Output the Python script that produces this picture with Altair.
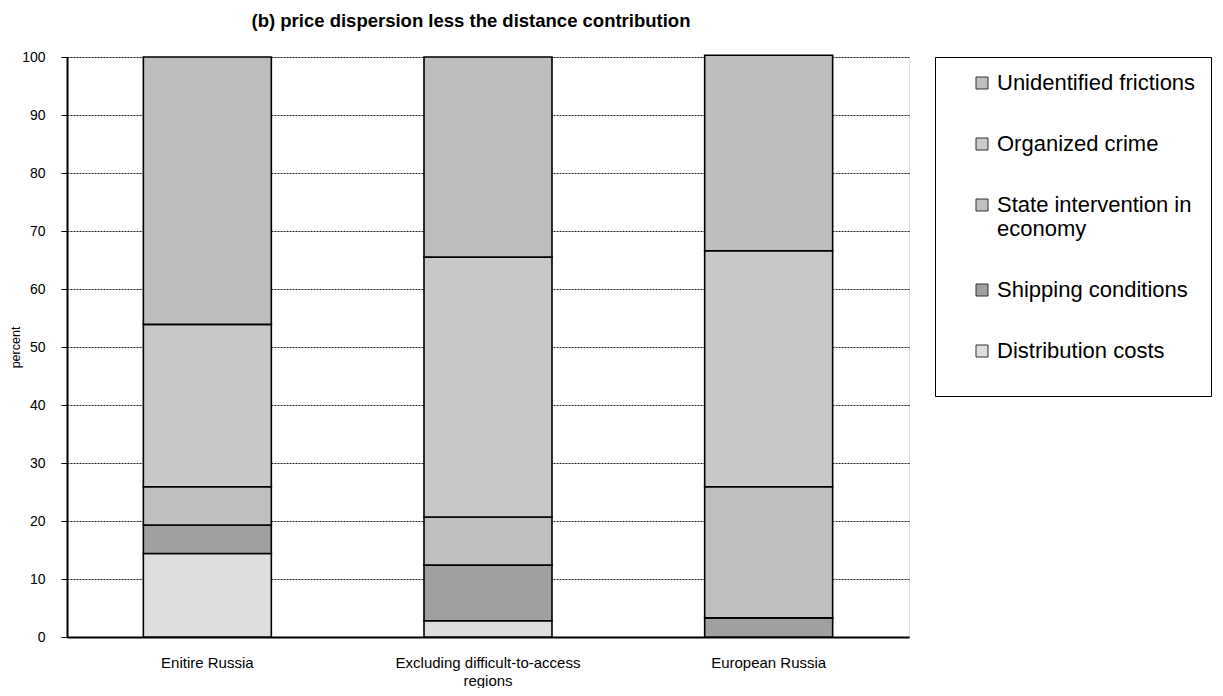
import altair as alt
import pandas as pd

categories = ["Enitire Russia", "Excluding difficult-to-access regions", "European Russia"]
components = ["Distribution costs", "Shipping conditions", "State intervention in economy",
              "Organized crime", "Unidentified frictions"]
distribution = [14.4, 2.8, 0.0]
shipping = [4.9, 9.6, 3.3]
state = [6.6, 8.3, 22.6]
crime = [28.0, 44.8, 40.7]
unidentified = [46.1, 34.5, 33.7]
colors = ["#DEDEDE", "#A0A0A0", "#C0C0C0", "#C8C8C8", "#BEBEBE"]

series = [distribution, shipping, state, crime, unidentified]
rows = []
for k, (comp, vals) in enumerate(zip(components, series)):
    for cat, v in zip(categories, vals):
        rows.append({"category": cat, "component": comp, "value": v, "rank": k})
df = pd.DataFrame(rows)

legend_order = components[::-1]
legend_colors = colors[::-1]

FONT = "Liberation Sans"

chart = alt.Chart(df).mark_bar(stroke="black", strokeWidth=1.6).encode(
    x=alt.X("category:N", sort=categories,
            scale=alt.Scale(paddingInner=0.544, paddingOuter=0.272),
            axis=alt.Axis(title=None, labelAngle=0, ticks=False, labelPadding=18,
                          labelFontSize=15, labelColor="black", labelFont=FONT,
                          labelLineHeight=18, labelLimit=400,
                          domainColor="black", domainWidth=2,
                          labelExpr="datum.label == 'Excluding difficult-to-access regions' ? ['Excluding difficult-to-access', 'regions'] : datum.label")),
    y=alt.Y("value:Q", stack="zero",
            scale=alt.Scale(domain=[0, 100], nice=False),
            axis=alt.Axis(title="percent", values=list(range(0, 101, 10)),
                          titleFontSize=12.5, titleFontWeight="normal", titleFont=FONT,
                          titleColor="black", titleX=-52, titleY=290, titleAngle=270,
                          titleAlign="center", titleBaseline="middle",
                          labelFontSize=14, labelColor="black", labelFont=FONT,
                          labelPadding=16, tickSize=6, tickColor="black",
                          domainColor="black", domainWidth=2,
                          grid=True, gridColor="#222222", gridWidth=1, gridDash=[2, 1])),
    color=alt.Color("component:N",
                    scale=alt.Scale(domain=legend_order, range=legend_colors),
                    legend=alt.Legend(title=" ", titleOrient="bottom", titleFontSize=14,
                                      titlePadding=5,
                                      orient="none", legendX=868, legendY=0,
                                      padding=15, strokeColor="black", fillColor="white",
                                      symbolType="square", symbolSize=144,
                                      symbolStrokeColor="#333333", symbolStrokeWidth=1,
                                      symbolOffset=21, labelOffset=4,
                                      labelFontSize=22, labelFont=FONT, labelColor="black",
                                      labelLimit=400, rowPadding=39,
                                      labelExpr="datum.label == 'State intervention in economy' ? ['State intervention in', 'economy'] : datum.label")),
    order=alt.Order("rank:Q", sort="ascending"),
).properties(
    width=842, height=580,
    title=alt.TitleParams("(b) price dispersion less the distance contribution",
                          fontSize=18.5, fontWeight="bold", font=FONT, color="black",
                          anchor="middle", frame="group", offset=20, dx=-17),
    autosize=alt.AutoSizeParams(type="none"),
    padding={"left": 59, "top": 49, "right": 304, "bottom": 51},
).configure_view(
    stroke="black", strokeWidth=1
).configure(background="white")

chart.save("out.html", embed_options={"renderer": "svg", "actions": False})
